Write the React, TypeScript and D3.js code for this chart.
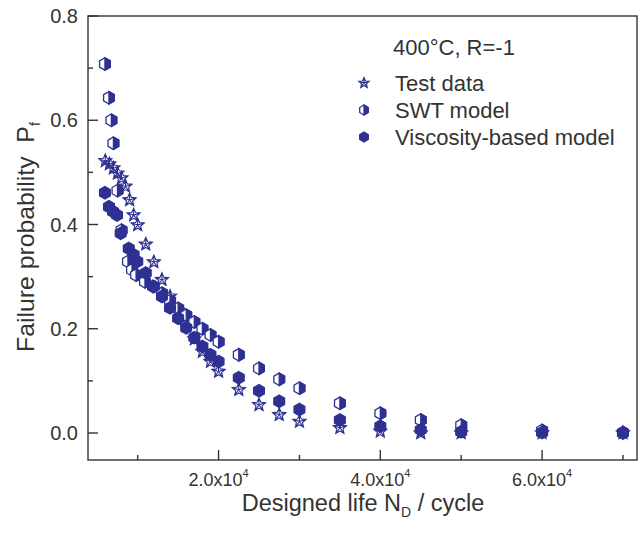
import React from "react";
import * as d3 from "d3";

const testX = [6000, 6500, 7000, 7500, 8000, 8500, 9000, 9500, 10000, 11000, 12000, 13000, 14000, 15000, 16000, 17000, 18000, 19000, 20000, 22500, 25000, 27500, 30000, 35000, 40000, 45000, 50000, 60000, 70000];
const testY = [0.522, 0.516, 0.508, 0.498, 0.489, 0.473, 0.447, 0.418, 0.399, 0.362, 0.328, 0.294, 0.262, 0.235, 0.205, 0.18, 0.156, 0.137, 0.118, 0.083, 0.054, 0.035, 0.022, 0.01, 0.003, 0.0, 0.0, 0.0, 0.0];

const swtX = [5950, 6450, 6750, 7000, 7500, 8000, 8800, 9300, 9800, 10900, 11900, 13000, 14000, 15000, 16000, 17000, 18000, 19000, 20000, 22500, 25000, 27500, 30000, 35000, 40000, 45000, 50000, 60000, 70000];
const swtY = [0.708, 0.643, 0.6, 0.556, 0.465, 0.389, 0.329, 0.313, 0.303, 0.29, 0.281, 0.268, 0.254, 0.239, 0.226, 0.213, 0.2, 0.188, 0.175, 0.15, 0.124, 0.103, 0.086, 0.057, 0.038, 0.025, 0.015, 0.005, 0.001];

const viscX = [5950, 6450, 6950, 7450, 7900, 8900, 9500, 9950, 11000, 12000, 13000, 14000, 15000, 16000, 17000, 18000, 19000, 20000, 22500, 25000, 27500, 30000, 35000, 40000, 45000, 50000, 60000, 70000];
const viscY = [0.461, 0.434, 0.425, 0.418, 0.383, 0.354, 0.342, 0.329, 0.307, 0.281, 0.262, 0.24, 0.22, 0.202, 0.183, 0.166, 0.15, 0.137, 0.106, 0.081, 0.061, 0.045, 0.025, 0.013, 0.006, 0.0025, 0.001, 0.0];

const xMajorTicks = [20000, 40000, 60000];
const xMinorTicks = [10000, 30000, 50000, 70000];
const xTickLabels = ["2.0x10", "4.0x10", "6.0x10"];
const yMajorTicks = [0, 0.2, 0.4, 0.6, 0.8];
const yMinorTicks = [0.1, 0.3, 0.5, 0.7];
const yTickLabels = ["0.0", "0.2", "0.4", "0.6", "0.8"];

const seriesNames = ["Test data", "SWT model", "Viscosity-based model"];
const annotation = "400°C, R=-1";

const COLOR = "#2E3192";
const AXIS = "#333";
const FONT = "'Liberation Sans', Arial, Helvetica, sans-serif";

const W = 640, H = 534;
const L = 88, R = 637, T = 16, B = 460;

const x = d3.scaleLinear().domain([3858, 71735]).range([L, R]);
const y = d3.scaleLinear().domain([-0.0518, 0.8]).range([B, T]);

function hexPath(cx: number, cy: number, r: number) {
  const pts: [number, number][] = [];
  for (let i = 0; i < 6; i++) {
    const a = (Math.PI / 3) * i - Math.PI / 2;
    pts.push([cx + r * Math.cos(a), cy + r * Math.sin(a)]);
  }
  return d3.line()(pts) + "Z";
}
function halfHexPath(cx: number, cy: number, r: number) {
  const pts: [number, number][] = [];
  for (let i = 0; i <= 3; i++) {
    const a = (Math.PI / 3) * i - Math.PI / 2;
    pts.push([cx + r * Math.cos(a), cy + r * Math.sin(a)]);
  }
  return d3.line()(pts) + "Z";
}
function starPath(cx: number, cy: number, ro: number, ri: number) {
  const pts: [number, number][] = [];
  for (let i = 0; i < 10; i++) {
    const a = (Math.PI / 5) * i - Math.PI / 2;
    const r = i % 2 === 0 ? ro : ri;
    pts.push([cx + r * Math.cos(a), cy + r * Math.sin(a)]);
  }
  let p = d3.line()(pts) + "Z";
  for (let i = 0; i < 10; i += 2) {
    const a = (Math.PI / 5) * i - Math.PI / 2;
    p += `M${cx},${cy}L${cx + ro * Math.cos(a)},${cy + ro * Math.sin(a)}`;
  }
  return p;
}

function Star({ cx, cy, s = 1 }: { cx: number; cy: number; s?: number }) {
  return <path d={starPath(cx, cy, 7 * s, 3.2 * s)} fill="none" stroke={COLOR} strokeWidth={1.1} />;
}
function HalfHex({ cx, cy, s = 1 }: { cx: number; cy: number; s?: number }) {
  const r = 6.2 * s;
  return (
    <g>
      <path d={hexPath(cx, cy, r)} fill="#fff" stroke={COLOR} strokeWidth={1.3} />
      <path d={halfHexPath(cx, cy, r)} fill={COLOR} stroke={COLOR} strokeWidth={1.3} />
    </g>
  );
}
function Hex({ cx, cy, s = 1 }: { cx: number; cy: number; s?: number }) {
  return <path d={hexPath(cx, cy, 6.2 * s)} fill={COLOR} stroke={COLOR} strokeWidth={1.3} />;
}

export default function App() {
  return (
    <svg width={W} height={H} style={{ position: "absolute", left: 0, top: 0, background: "#fff" }} fontFamily={FONT}>
      <rect x={0} y={0} width={W} height={H} fill="#fff" />
      {/* data */}
      <g>
        {testX.map((v, i) => <Star key={"t" + i} cx={x(v)} cy={y(testY[i])} />)}
        {swtX.map((v, i) => <HalfHex key={"s" + i} cx={x(v)} cy={y(swtY[i])} />)}
        {viscX.map((v, i) => <Hex key={"v" + i} cx={x(v)} cy={y(viscY[i])} />)}
      </g>
      {/* frame */}
      <rect x={L} y={T} width={R - L} height={B - T} fill="none" stroke={AXIS} strokeWidth={1.4} />
      {/* x ticks */}
      {xMajorTicks.map((t, i) => (
        <g key={"xm" + i}>
          <line x1={x(t)} x2={x(t)} y1={B} y2={B - 10} stroke={AXIS} strokeWidth={1.4} />
          <text x={x(t)} y={486} textAnchor="middle" fontSize={18} fill={AXIS}>
            {xTickLabels[i]}
            <tspan fontSize={11} dy={-9}>4</tspan>
          </text>
        </g>
      ))}
      {xMinorTicks.map((t, i) => (
        <line key={"xn" + i} x1={x(t)} x2={x(t)} y1={B} y2={B - 5} stroke={AXIS} strokeWidth={1.4} />
      ))}
      {/* y ticks */}
      {yMajorTicks.map((t, i) => (
        <g key={"ym" + i}>
          <line x1={L} x2={L + 10} y1={y(t)} y2={y(t)} stroke={AXIS} strokeWidth={1.4} />
          <text x={78} y={y(t)} dy="0.36em" textAnchor="end" fontSize={20} fill={AXIS}>{yTickLabels[i]}</text>
        </g>
      ))}
      {yMinorTicks.map((t, i) => (
        <line key={"yn" + i} x1={L} x2={L + 5} y1={y(t)} y2={y(t)} stroke={AXIS} strokeWidth={1.4} />
      ))}
      {/* axis titles */}
      <text x={363} y={511} textAnchor="middle" fontSize={23.5} fill={AXIS}>
        Designed life N<tspan fontSize={14} dy={6}>D</tspan><tspan dy={-6}>{"\u00a0/ cycle"}</tspan>
      </text>
      <text transform="translate(34,237) rotate(-90) scale(1.055,1)" textAnchor="middle" fontSize={23.5} fill={AXIS}>
        Failure probability{"\u00a0\u00a0"}P<tspan fontSize={14} dy={6}>f</tspan>
      </text>
      {/* legend */}
      <text x={393} y={55} fontSize={22} fill={AXIS}>{annotation}</text>
      <Star cx={364} cy={83} s={0.8} />
      <text x={395} y={91} fontSize={22} fill={AXIS}>{seriesNames[0]}</text>
      <HalfHex cx={364} cy={110} s={0.8} />
      <text x={395} y={118} fontSize={22} fill={AXIS}>{seriesNames[1]}</text>
      <Hex cx={364} cy={137} s={0.8} />
      <text x={395} y={145} fontSize={22} fill={AXIS}>{seriesNames[2]}</text>
    </svg>
  );
}
